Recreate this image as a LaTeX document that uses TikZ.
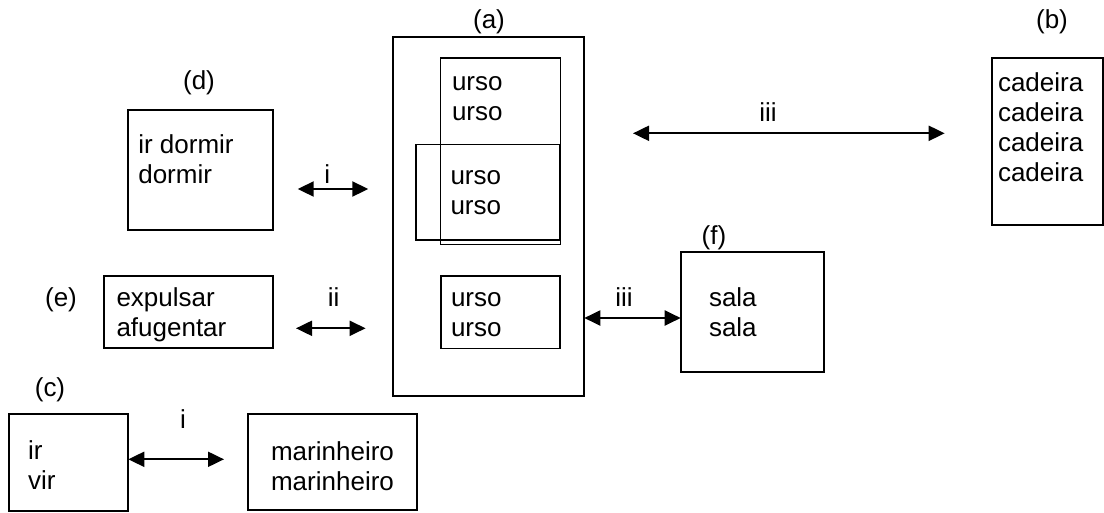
\documentclass[tikz,border=0pt]{standalone}
\usepackage{fontspec}
\setmainfont{Liberation Sans}
\usetikzlibrary{arrows.meta}
\newcommand\txtlines[1]{\begin{tabular}[t]{@{}l@{}}#1\end{tabular}}
\newcommand\txtlinesc[1]{\begin{tabular}[t]{@{}c@{}}#1\end{tabular}}
\tikzset{
  every node/.style={font=\fontsize{26}{30}\selectfont, inner sep=0pt, outer sep=0pt},
  box/.style={draw, line width=2pt, anchor=north west, minimum width=#1},
  inbox/.style={draw, line width=1.6pt, anchor=north west, minimum width=#1},
  txt/.style={anchor=base west},
  lab/.style={anchor=base},
  arr/.style={line width=2pt, {Triangle[length=16pt,width=15pt]}-{Triangle[length=16pt,width=15pt]}}
}
\begin{document}
\begin{tikzpicture}[x=1pt,y=-1pt]
\useasboundingbox (0,0) rectangle (1104,512);
% boxes
\node[box=191.6pt, minimum height=359pt] (a) at (392.7,37) {};
\node[inbox=120pt, minimum height=186.6pt] (a1) at (440.3,57.7) {};
\node[inbox=143.5pt, minimum height=95.7pt] (a2) at (416,144.3) {};
\node[inbox=119.3pt, minimum height=72.6pt] (a3) at (440.7,275.7) {};
\node[box=111pt, minimum height=167.5pt] (b) at (992,57.5) {};
\node[box=144.4pt, minimum height=120pt] (d) at (128.3,110) {};
\node[box=168.7pt, minimum height=72.6pt] (e) at (104,275.7) {};
\node[box=119.3pt, minimum height=96.4pt] (c) at (9,414.3) {};
\node[box=168.4pt, minimum height=95.7pt] (m) at (248.3,414.3) {};
\node[box=143.6pt, minimum height=120.3pt] (f) at (680.7,252) {};
% box labels
\node[lab] (la) at (489,28) {(a)};
\node[lab] (lb) at (1052,28) {(b)};
\node[lab] (lc) at (50,396) {(c)};
\node[lab] (ld) at (199,89) {(d)};
\node[lab] (le) at (61,306.7) {(e)};
\node[lab] (lf) at (714,244.5) {(f)};
% texts
\node[txt] (ta1) at (452,90.7) {\txtlines{urso\\urso}};
\node[txt] (ta2) at (450.5,184) {\txtlines{urso\\urso}};
\node[txt] (ta3) at (451,306.7) {\txtlines{urso\\urso}};
\node[txt] (tb) at (998,91) {\txtlines{cadeira\\cadeira\\cadeira\\cadeira}};
\node[txt] (td) at (138.3,153.3) {\txtlines{ir dormir\\dormir}};
\node[txt] (te) at (116.5,306.7) {\txtlines{expulsar\\afugentar}};
\node[txt] (tc) at (28,459.5) {\txtlines{ir\\vir}};
\node[anchor=base] (tm) at (332.5,460.5) {\txtlinesc{marinheiro\\marinheiro}};
\node[txt] (tf) at (709,306.3) {\txtlines{sala\\sala}};
% connector ends
\coordinate (i1s) at (297.7,189);
\coordinate (i1e) at (368.3,189);
\coordinate (iis) at (296,328.3);
\coordinate (iie) at (365.6,328.3);
\coordinate (iiis) at (633,133.3);
\coordinate (iiie) at (944.7,133.3);
\coordinate (iii2s) at (584.3,318);
\coordinate (iii2e) at (680.7,318);
\coordinate (i2s) at (128.3,459.3);
\coordinate (i2e) at (224,459.3);
% connectors
\draw[arr] (i1s) -- (i1e);
\draw[arr] (iis) -- (iie);
\draw[arr] (iiis) -- (iiie);
\draw[arr] (iii2s) -- (iii2e);
\draw[arr] (i2s) -- (i2e);
% connector labels
\node[lab] (li1) at (327.3,183.3) {i};
\node[lab] (lii) at (333.6,306.7) {ii};
\node[lab] (liii) at (768,121.7) {iii};
\node[lab] (liii2) at (624,306.7) {iii};
\node[lab] (li2) at (183,428.3) {i};
\end{tikzpicture}
\end{document}
